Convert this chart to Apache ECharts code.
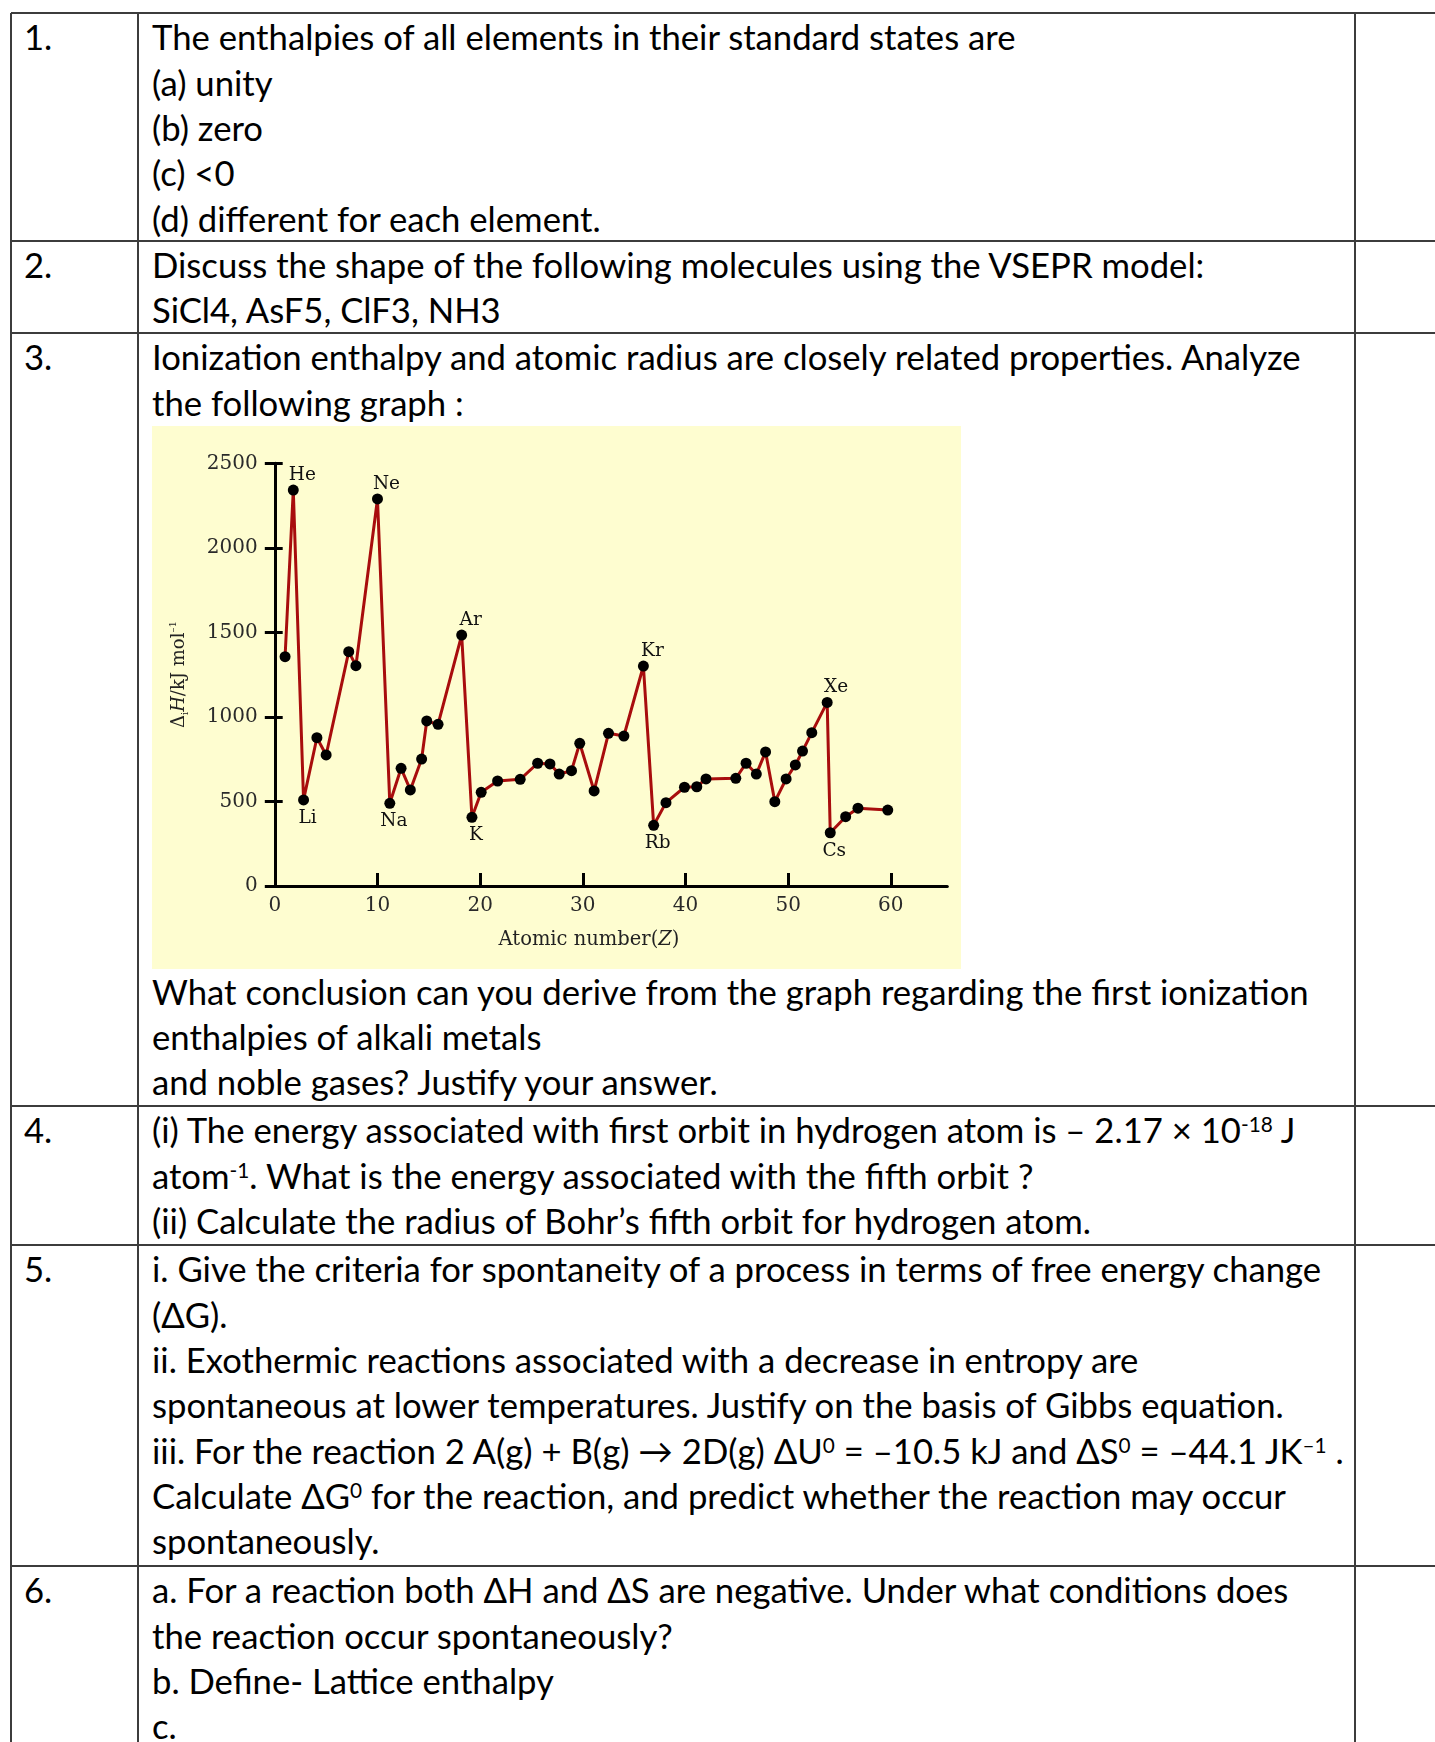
<!DOCTYPE html>
<html>
<head>
<meta charset="utf-8">
<script src="https://cdn.jsdelivr.net/npm/echarts@6/dist/echarts.min.js"></script>
<style>
  html, body { margin:0; padding:0; background:#fff; }
  body { width:1435px; height:1742px; position:relative; overflow:hidden; font-family: Lato, "Open Sans", sans-serif; color:#000; }
  .hl { position:absolute; left:11px; right:0; height:2px; background:#3c3c3c; }
  .vl { position:absolute; top:13px; bottom:0; width:2px; background:#3c3c3c; }
  .ln { position:absolute; left:152px; white-space:nowrap; height:45.3px; line-height:45.3px; font-size:var(--fs, 30px); }
  .num { position:absolute; left:24px; white-space:nowrap; height:45.3px; line-height:45.3px; font-size:var(--fs, 30px); }
  sup { font-size:0.6em; vertical-align:0.55em; line-height:0; }
  #chart { position:absolute; left:152px; top:426px; width:809px; height:543px; background:#fefdd0; }
</style>
</head>
<body>
<div id="page"></div>
<div id="chart"></div>
<script>
// ---------------- chart data ----------------
const atomicZ = [1.0, 1.8, 2.8, 4.1, 5.0, 7.2, 7.9, 10.0, 11.2, 12.3, 13.2, 14.3, 14.8, 15.9,
  18.2, 19.2, 20.1, 21.7, 23.9, 25.6, 26.8, 27.7, 28.9, 29.7, 31.1, 32.5, 34.0, 35.9,
  36.9, 38.1, 39.9, 41.1, 42.0, 44.9, 45.9, 46.9, 47.8, 48.7, 49.8, 50.7, 51.4, 52.3,
  53.8, 54.1, 55.6, 56.8, 59.7];
const ionEnthalpy = [1356, 2342, 509, 877, 775, 1386, 1303, 2289, 489, 696, 568, 751, 976, 956,
  1484, 406, 554, 621, 631, 726, 722, 662, 682, 844, 562, 903, 887, 1301,
  359, 493, 584, 587, 633, 637, 726, 662, 793, 499, 633, 716, 798, 907,
  1086, 315, 410, 460, 449];
const peakNames = ['He', 'Ne', 'Ar', 'Kr', 'Xe'];
const peakIndex = [1, 7, 14, 27, 42];
const troughNames = ['Li', 'Na', 'K', 'Rb', 'Cs'];
const troughIndex = [2, 8, 15, 28, 43];
const xLabelValues = [0, 10, 20, 30, 40, 50, 60];
const xTickValues = [10, 20, 30, 40, 50, 60];

// ---------------- page text ----------------
const rowLines = [
  {num:'1.', lines:['The enthalpies of all elements in their standard states are','(a) unity','(b) zero','(c) &lt;0','(d) different for each element.']},
  {num:'2.', lines:['Discuss the shape of the following molecules using the VSEPR model:','SiCl4, AsF5, ClF3, NH3']},
  {num:'3.', lines:['Ionization enthalpy and atomic radius are closely related properties. Analyze','the following graph :'],
   after:['What conclusion can you derive from the graph regarding the first ionization','enthalpies of alkali metals','and noble gases? Justify your answer.']},
  {num:'4.', lines:['(i) The energy associated with first orbit in hydrogen atom is – 2.17 × 10<sup>-18</sup> J','atom<sup>-1</sup>. What is the energy associated with the fifth orbit ?','(ii) Calculate the radius of Bohr’s fifth orbit for hydrogen atom.']},
  {num:'5.', lines:['i. Give the criteria for spontaneity of a process in terms of free energy change','(ΔG).','ii. Exothermic reactions associated with a decrease in entropy are','spontaneous at lower temperatures. Justify on the basis of Gibbs equation.','iii. For the reaction 2 A(g) + B(g) → 2D(g) ΔU<sup>0</sup> = –10.5 kJ and ΔS<sup>0</sup> = –44.1 JK<sup>–1</sup> .','Calculate ΔG<sup>0</sup> for the reaction, and predict whether the reaction may occur','spontaneously.']},
  {num:'6.', lines:['a. For a reaction both ΔH and ΔS are negative. Under what conditions does','the reaction occur spontaneously?','b. Define- Lattice enthalpy','c.']}
];
const rowTops = [13, 240.5, 333, 1106, 1245, 1566];
const LH = 45.3;

// fit font size to the reference line width
(function(){
  const ctx = document.createElement('canvas').getContext('2d');
  ctx.font = '100px Lato';
  const w = ctx.measureText('i. Give the criteria for spontaneity of a process in terms of free energy change').width;
  document.body.style.setProperty('--fs', (100 * 1173 / w).toFixed(2) + 'px');
})();

(function(){
  const page = document.getElementById('page');
  let html = '';
  rowTops.forEach(t => { html += '<div class="hl" style="top:' + (t - 1) + 'px"></div>'; });
  [11, 137.5, 1354.5].forEach(x => { html += '<div class="vl" style="left:' + (x - 1) + 'px"></div>'; });
  rowLines.forEach((r, ri) => {
    const top = rowTops[ri];
    const first = top + 24 - LH / 2;
    html += '<div class="num" style="top:' + first + 'px">' + r.num + '</div>';
    r.lines.forEach((s, i) => {
      html += '<div class="ln" style="top:' + (first + i * LH) + 'px">' + s + '</div>';
    });
    if (r.after) {
      const chartBottom = 969;
      const f2 = chartBottom + 22.5 - LH / 2;
      r.after.forEach((s, i) => {
        html += '<div class="ln" style="top:' + (f2 + i * LH) + 'px">' + s + '</div>';
      });
    }
  });
  page.innerHTML = html;
})();

// ---------------- chart ----------------
const serif = 'DejaVu Serif';
const points = atomicZ.map((z, i) => ({ value: [z, ionEnthalpy[i]] }));
peakIndex.forEach((idx, k) => {
  points[idx].label = { show: true, position: 'top', distance: 0, offset: [9, 0], formatter: peakNames[k] };
});
troughIndex.forEach((idx, k) => {
  points[idx].label = { show: true, position: 'bottom', distance: 3, offset: [4, 0], formatter: troughNames[k] };
});

const chart = echarts.init(document.getElementById('chart'), null, { renderer: 'canvas' });
chart.setOption({
  animation: false,
  backgroundColor: 'transparent',
  grid: { left: 118.7, right: 13.7, top: 37.3, bottom: 83 },
  xAxis: {
    type: 'value', min: -0.4, max: 65.5,
    axisLine: { show: true, onZero: false, lineStyle: { color: '#000', width: 3 } },
    axisTick: { show: true, inside: true, length: 13, customValues: xTickValues, lineStyle: { color: '#000', width: 3 } },
    axisLabel: { customValues: xLabelValues, margin: 10, fontFamily: serif, fontSize: 20, color: '#2a2a2a', formatter: v => String(v) },
    splitLine: { show: false },
    name: '{a|Atomic number(}{i|Z}{a|)}',
    nameLocation: 'middle', nameGap: 44,
    nameTextStyle: {
      padding: [0, 40, 0, 0],
      rich: {
        a: { fontFamily: serif, fontSize: 19.5, color: '#222' },
        i: { fontFamily: serif, fontSize: 19.5, fontStyle: 'italic', color: '#222' }
      }
    }
  },
  yAxis: [{
    type: 'value', min: 0, max: 2500, interval: 500,
    axisLine: { show: true, lineStyle: { color: '#000', width: 3 } },
    axisTick: { show: true, inside: false, length: 10, lineStyle: { color: '#000', width: 3 } },
    axisLabel: { margin: 13, fontFamily: serif, fontSize: 20, color: '#2a2a2a', formatter: v => String(v) },
    splitLine: { show: false },
    name: '{d|Δ}{s|i}{h|H}{t|/kJ mol}{p|–1}',
    nameLocation: 'middle', nameRotate: 90, nameGap: 80,
    nameTextStyle: {
      rich: {
        d: { fontFamily: serif, fontSize: 18, color: '#222', lineHeight: 22 },
        s: { fontFamily: serif, fontSize: 10, color: '#222', verticalAlign: 'bottom', lineHeight: 22 },
        h: { fontFamily: serif, fontSize: 18, fontStyle: 'italic', color: '#222', lineHeight: 22 },
        t: { fontFamily: serif, fontSize: 18, color: '#222', lineHeight: 22 },
        p: { fontFamily: serif, fontSize: 10, color: '#222', verticalAlign: 'top', lineHeight: 22 }
      }
    }
  }, {
    type: 'value', min: 0, max: 2500, interval: 500, position: 'left',
    axisLine: { show: false },
    axisTick: { show: true, inside: true, length: 12, lineStyle: { color: '#000', width: 3 } },
    axisLabel: { show: false },
    splitLine: { show: false }
  }],
  series: [{
    type: 'line',
    data: points,
    symbol: 'circle',
    symbolSize: 11,
    lineStyle: { color: '#a80d0d', width: 3 },
    itemStyle: { color: '#000' },
    label: { fontFamily: serif, fontSize: 18.5, color: '#111' },
    emphasis: { disabled: true }
  }]
});
</script>
</body>
</html>
